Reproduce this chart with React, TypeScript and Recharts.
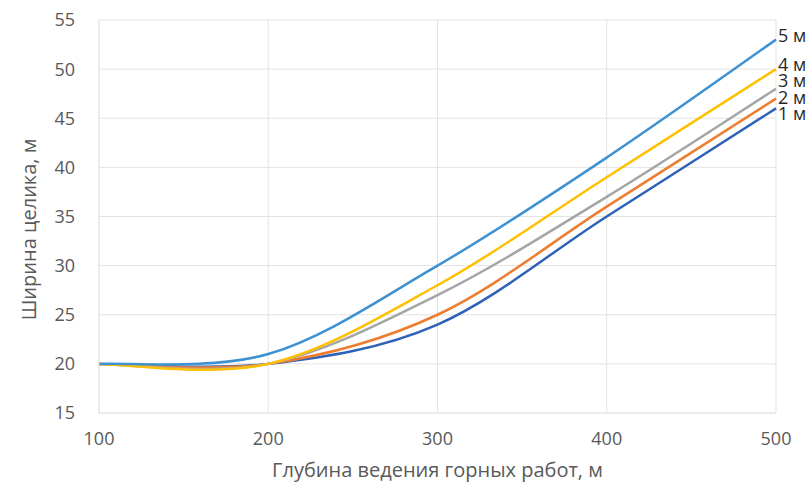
import { LineChart, Line, XAxis, YAxis, CartesianGrid, LabelList } from 'recharts';

const depths = [100, 200, 300, 400, 500];
const width1 = [20, 20, 24, 35, 46];
const width2 = [20, 20, 25, 36, 47];
const width3 = [20, 20, 27, 37, 48];
const width4 = [20, 20, 28, 39, 50];
const width5 = [20, 21, 30, 41, 53];
const seriesNames = ['1 м', '2 м', '3 м', '4 м', '5 м'];
const xTicks = [100, 200, 300, 400, 500];
const yTicks = [15, 20, 25, 30, 35, 40, 45, 50, 55];

const data = depths.map((d, i) => ({
  depth: d,
  s1: width1[i],
  s2: width2[i],
  s3: width3[i],
  s4: width4[i],
  s5: width5[i],
}));

// colour + label nudge for each series
const series = [
  { key: 's1', color: '#2E62B8', dy: 5 },
  { key: 's2', color: '#ED7D31', dy: -1 },
  { key: 's3', color: '#A5A5A5', dy: -8 },
  { key: 's4', color: '#FFC000', dy: -5 },
  { key: 's5', color: '#3F92D2', dy: -4 },
];

const FONT = '"Open Sans", sans-serif';

// Excel-style smoothed line (cubic bezier, tension 1/6)
function excelCurve(context: any) {
  let pts: number[][] = [];
  return {
    areaStart() {},
    areaEnd() {},
    lineStart() {
      pts = [];
    },
    point(x: number, y: number) {
      pts.push([+x, +y]);
    },
    lineEnd() {
      if (!pts.length) return;
      context.moveTo(pts[0][0], pts[0][1]);
      for (let i = 0; i < pts.length - 1; i++) {
        const p0 = pts[Math.max(i - 1, 0)];
        const p1 = pts[i];
        const p2 = pts[i + 1];
        const p3 = pts[Math.min(i + 2, pts.length - 1)];
        context.bezierCurveTo(
          p1[0] + (p2[0] - p0[0]) / 6,
          p1[1] + (p2[1] - p0[1]) / 6,
          p2[0] - (p3[0] - p1[0]) / 6,
          p2[1] - (p3[1] - p1[1]) / 6,
          p2[0],
          p2[1]
        );
      }
    },
  };
}

function endLabel(name: string, dy: number) {
  return (props: any) => {
    if (props.index !== depths.length - 1) return null;
    return (
      <text x={props.x + 2} y={props.y + dy} dy={6.5} fill="#262626" fontSize={18} fontFamily={FONT}>
        {name}
      </text>
    );
  };
}

const yTitle = (props: any) => {
  const vb = props.viewBox;
  const cx = vb.x + 28;
  const cy = vb.y + vb.height / 2 + 13;
  return (
    <text
      x={cx}
      y={cy}
      transform={`rotate(-90, ${cx}, ${cy})`}
      textAnchor="middle"
      dominantBaseline="central"
      fill="#595959"
      fontSize={20}
      fontFamily={FONT}
    >
      Ширина целика, м
    </text>
  );
};

export default function App() {
  return (
    <div style={{ position: 'absolute', left: 0, top: 0, background: '#fff' }}>
      <LineChart width={812} height={484} data={data} margin={{ top: 20, right: 36, bottom: 0, left: 0 }}>
        <CartesianGrid stroke="#E3E3E3" strokeWidth={1} />
        <XAxis
          dataKey="depth"
          type="number"
          domain={[100, 500]}
          ticks={xTicks}
          height={71}
          axisLine={{ stroke: '#E3E3E3' }}
          tickLine={false}
          tick={{ fill: '#595959', fontSize: 18, fontFamily: FONT }}
          tickMargin={13}
          label={{
            value: 'Глубина ведения горных работ, м',
            position: 'insideBottom',
            offset: 7,
            fill: '#595959',
            fontSize: 20,
            fontFamily: FONT,
          }}
        />
        <YAxis
          type="number"
          domain={[15, 55]}
          ticks={yTicks}
          width={99}
          axisLine={{ stroke: '#E3E3E3' }}
          tickLine={false}
          tick={{ fill: '#595959', fontSize: 18, fontFamily: FONT }}
          tickMargin={18}
          label={{ content: yTitle }}
        />
        {series.map((s, i) => (
          <Line
            key={s.key}
            dataKey={s.key}
            type={excelCurve as any}
            stroke={s.color}
            strokeWidth={2.5}
            dot={false}
            activeDot={false}
            isAnimationActive={false}
          >
            <LabelList dataKey={s.key} content={endLabel(seriesNames[i], s.dy)} />
          </Line>
        ))}
      </LineChart>
    </div>
  );
}
